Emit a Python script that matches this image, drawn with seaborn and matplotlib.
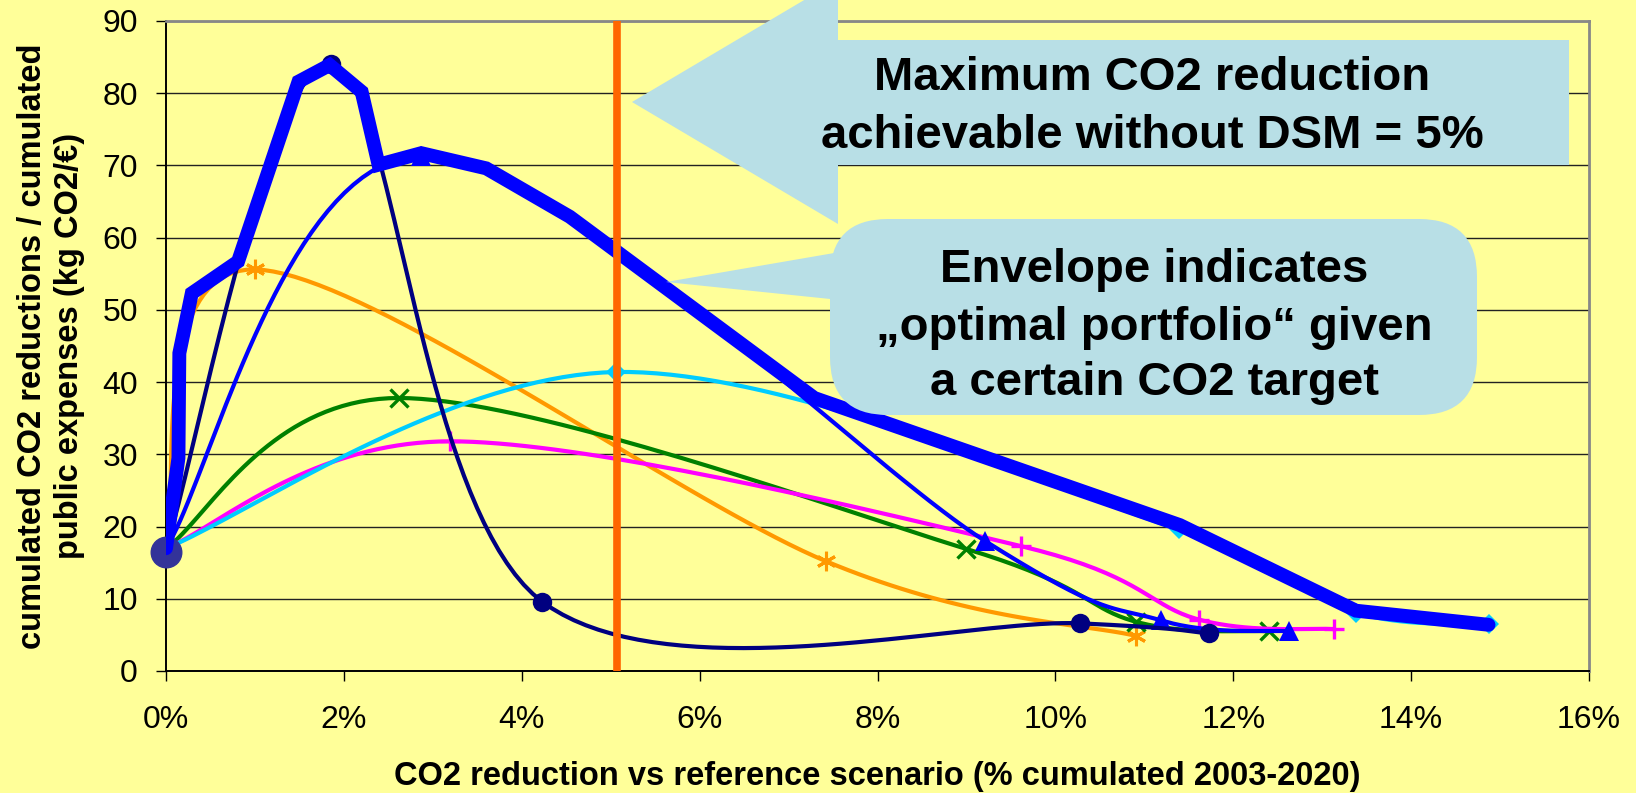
import numpy as np
import matplotlib
matplotlib.use("Agg")
import matplotlib.pyplot as plt
from matplotlib.patches import Polygon, FancyBboxPatch
from matplotlib.transforms import Affine2D
from matplotlib.ticker import FuncFormatter
import seaborn as sns

# Portfolio curves: CO2 reduction (% cumulated) vs kg CO2 saved per € spent
navy_x = [0.0, 1.86, 4.23, 10.28, 11.73]
navy_y = [17.0, 84.0, 9.6, 6.6, 5.2]
blue_x = [0.0, 2.87, 9.21, 11.19, 12.63]
blue_y = [17.0, 71.3, 18.0, 7.0, 5.5]
orange_x = [0.0, 1.00, 7.42, 10.91]
orange_y = [17.0, 55.6, 15.2, 4.85]
green_x = [0.0, 2.62, 9.00, 10.91, 12.40]
green_y = [17.0, 37.8, 16.9, 6.8, 5.5]
magenta_x = [0.0, 3.19, 9.61, 11.62, 13.13]
magenta_y = [17.0, 31.8, 17.3, 7.1, 5.8]
cyan_x = [0.0, 5.06, 11.39, 13.38, 14.87]
cyan_y = [17.0, 41.4, 19.6, 8.1, 6.5]

# Envelope ("optimal portfolio") polyline
envelope_x = [0.0, 0.14, 0.15, 0.29, 0.81, 1.49, 1.84, 2.20, 2.39, 2.87,
              3.60, 4.54, 7.29, 11.40, 13.38, 14.87]
envelope_y = [17.0, 29.5, 44.0, 52.3, 56.7, 81.6, 83.9, 80.2, 70.1, 71.7,
              69.6, 62.9, 37.8, 20.2, 8.35, 6.4]

# Common starting point and the no-DSM limit
start_x = [0.0]
start_y = [16.5]
dsm_limit = 5.07

x_ticks = [0, 2, 4, 6, 8, 10, 12, 14, 16]
y_ticks = [0, 10, 20, 30, 40, 50, 60, 70, 80, 90]


def smooth(xs, ys, n=40):
    """Bezier smoothing through every point (Catmull-Rom style tangents)."""
    p = np.column_stack([xs, ys]).astype(float)
    ext = np.vstack([p[0], p, p[-1]])
    t = np.linspace(0, 1, n)[:, None]
    out = []
    for i in range(len(p) - 1):
        p0, p1, p2, p3 = ext[i], ext[i + 1], ext[i + 2], ext[i + 3]
        c1 = p1 + (p2 - p0) / 6.0
        c2 = p2 - (p3 - p1) / 6.0
        seg = ((1 - t) ** 3) * p1 + 3 * ((1 - t) ** 2) * t * c1 \
            + 3 * (1 - t) * (t ** 2) * c2 + (t ** 3) * p2
        out.append(seg if i == 0 else seg[1:])
    return np.vstack(out)


sns.set_theme(style="white")
plt.rcParams["font.family"] = ["Liberation Sans", "DejaVu Sans"]

BG = "#FFFF99"
W, H, DPI = 1636, 793, 100
fig = plt.figure(figsize=(W / DPI, H / DPI), dpi=DPI, facecolor=BG)
ax = fig.add_axes([166 / W, 1 - 671 / H, (1589 - 166) / W, (671 - 21) / H])
ax.set_facecolor(BG)

series = [
    (orange_x, orange_y, "#FF9900", dict(marker=(6, 2, 0), ms=14, mew=2.2)),
    (green_x, green_y, "#008000", dict(marker="x", ms=13, mew=2.4)),
    (magenta_x, magenta_y, "#FF00FF", dict(marker="+", ms=15, mew=2.4)),
    (cyan_x, cyan_y, "#00CCFF", dict(marker="D", ms=10, mew=0)),
    (blue_x, blue_y, "#0000FF", dict(marker="^", ms=15, mew=0)),
    (navy_x, navy_y, "#000080", dict(marker="o", ms=14, mew=0)),
]

z = 3
for xs, ys, col, mk in series:
    c = smooth(xs, ys)
    sns.lineplot(x=c[:, 0], y=c[:, 1], sort=False, estimator=None,
                 color=col, lw=3.0, ax=ax, zorder=z)
    ax.plot(xs, ys, ls="none", color=col, zorder=z + 0.5, **mk)
    z += 1

ax.plot(start_x, start_y, ls="none", marker="o", ms=22, color="#333399",
        zorder=z, clip_on=False)
z += 1
sns.lineplot(x=envelope_x, y=envelope_y, sort=False, estimator=None,
             color="#0000FF", lw=10, ax=ax, zorder=z)
ax.lines[-1].set_solid_joinstyle("miter")
ax.axvline(dsm_limit, color="#FF6600", lw=5.5, zorder=z + 1)

ax.set_xlim(0, 16)
ax.set_ylim(0, 90)
ax.set_xticks(x_ticks)
ax.set_yticks(y_ticks)
ax.xaxis.set_major_formatter(FuncFormatter(lambda v, _: f"{v:.0f}%"))
ax.yaxis.grid(True, color="#222222", lw=1.0)
ax.xaxis.grid(False)
ax.set_axisbelow(True)

for s in ["left", "bottom"]:
    ax.spines[s].set_color("black")
    ax.spines[s].set_linewidth(1.4)
for s in ["top", "right"]:
    ax.spines[s].set_color("#888888")
    ax.spines[s].set_linewidth(2.0)

ax.tick_params(axis="both", which="major", direction="out", length=7.2,
               width=1.0, color="black", labelsize=23, labelcolor="black",
               bottom=True, left=True)
ax.tick_params(axis="x", pad=17)
ax.tick_params(axis="y", pad=13)

ax.set_xlabel("CO2 reduction vs reference scenario (% cumulated 2003-2020)",
              fontsize=23.5, fontweight="bold", color="black")
ax.xaxis.label.set_va("center")
ax.xaxis.set_label_coords(0.5, (671 - 777) / 650)
ax.set_ylabel("cumulated CO2 reductions / cumulated\npublic expenses (kg CO2/€)",
              fontsize=23.5, fontweight="bold", color="black", linespacing=1.25)
ax.yaxis.label.set_va("center")
ax.yaxis.set_label_coords((51 - 166) / 1423, 0.5)

# Annotation shapes, laid out in figure pixels (origin at top-left)
px = Affine2D().scale(1 / DPI, -1 / DPI).translate(0, H / DPI) + fig.dpi_scale_trans
CALLOUT = "#B8DFE6"

arrow = Polygon([(632, 102), (838, -20), (838, 40), (1569, 40), (1569, 165),
                 (838, 165), (838, 224)], closed=True, facecolor=CALLOUT,
                edgecolor="none", transform=px, zorder=20, clip_on=False)
fig.add_artist(arrow)

box = FancyBboxPatch((830, 219), 647, 196,
                     boxstyle="round,pad=0,rounding_size=58",
                     facecolor=CALLOUT, edgecolor="none", transform=px,
                     zorder=20, clip_on=False)
fig.add_artist(box)
pointer = Polygon([(666, 282), (840, 252), (840, 300)], closed=True,
                  facecolor=CALLOUT, edgecolor="none", transform=px,
                  zorder=20, clip_on=False)
fig.add_artist(pointer)

txt = dict(transform=px, fontsize=34, fontweight="bold", color="black",
           ha="center", va="baseline", zorder=21)
fig.text(1152, 90, "Maximum CO2 reduction", **txt)
fig.text(1152, 148, "achievable without DSM = 5%", **txt)
fig.text(1154, 282, "Envelope indicates", **txt)
fig.text(1154, 340, "\u201eoptimal portfolio\u201c given", **txt)
fig.text(1154, 395, "a certain CO2 target", **txt)

fig.savefig("out.png", dpi=DPI, facecolor=BG)
